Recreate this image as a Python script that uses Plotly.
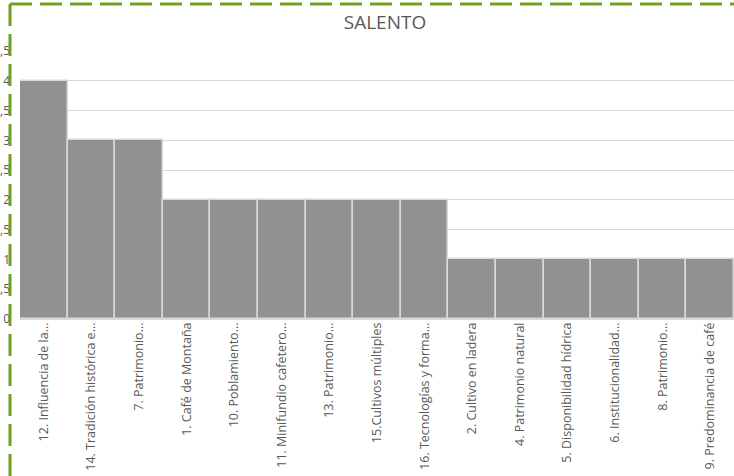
import plotly.graph_objects as go

categories = [
    "12. Influencia de la...",
    "14. Tradición histórica e...",
    "7. Patrimonio...",
    "1. Café de Montaña",
    "10. Poblamiento...",
    "11. Minifundio cafetero...",
    "13. Patrimonio...",
    "15.Cultivos múltiples",
    "16. Tecnologías y forma...",
    "2. Cultivo en ladera",
    "4. Patrimonio natural",
    "5. Disponibilidad hídrica",
    "6. Institucionalidad...",
    "8. Patrimonio...",
    "9. Predominancia de café",
]
values = [4, 3, 3, 2, 2, 2, 2, 2, 2, 1, 1, 1, 1, 1, 1]
y_ticks = [0, 0.5, 1, 1.5, 2, 2.5, 3, 3.5, 4, 4.5]

W, H = 734, 476
L, R, T, B = 20, 0, 51, 157
pw, ph = W - L - R, H - T - B

fig = go.Figure(go.Bar(
    x=categories, y=values,
    marker=dict(color="#919191", line=dict(color="#D9D9D9", width=1.5)),
))

def px_x(p):
    return (p - L) / pw

def px_y(p):
    return 1 - (p - T) / ph

green = "#6FA11E"
fig.add_shape(type="line", xref="paper", yref="paper",
              x0=px_x(10), x1=px_x(740), y0=px_y(4), y1=px_y(4),
              line=dict(color=green, width=3, dash="22px,8px"))
fig.add_shape(type="line", xref="paper", yref="paper",
              x0=px_x(10), x1=px_x(10), y0=px_y(4), y1=px_y(480),
              line=dict(color=green, width=3, dash="22px,8px"))

fig.update_layout(
    width=W, height=H,
    margin=dict(l=L, r=R, t=T, b=B, autoexpand=False),
    paper_bgcolor="white", plot_bgcolor="white",
    separators=",.",
    bargap=0,
    showlegend=False,
    font=dict(family="Open Sans", color="#595959"),
    title=dict(text="SALENTO", x=385 / W, xanchor="center",
               y=1 - 22 / H, yanchor="middle",
               font=dict(size=19, color="#595959", family="Open Sans")),
    xaxis=dict(tickangle=-90, tickfont=dict(size=12.5, color="#595959"),
               showgrid=False, showline=False, ticks="", automargin=False),
    yaxis=dict(range=[0, 4.5], tickvals=y_ticks, showgrid=True,
               gridcolor="#D9D9D9", gridwidth=1, zeroline=True,
               zerolinecolor="#D9D9D9", zerolinewidth=1,
               tickfont=dict(size=12, color="#595959"), ticks="",
               automargin=False, ticklabelstandoff=9),
)

fig.write_html("out.html", config={"displayModeBar": False},
               post_script="document.body.style.margin='0';document.body.style.overflow='hidden';")
